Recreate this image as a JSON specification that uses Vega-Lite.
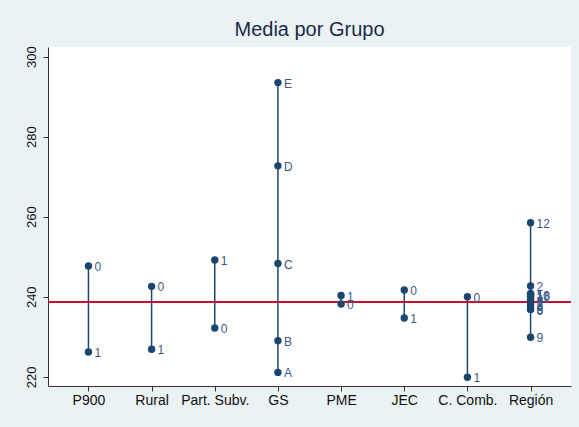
{
  "$schema": "https://vega.github.io/schema/vega-lite/v6.json",
  "width": 523,
  "height": 339,
  "autosize": {"type": "none"},
  "padding": {"left": 48, "top": 47, "right": 8, "bottom": 41},
  "background": "#EAF2F3",
  "config": {
    "view": {"fill": "white", "stroke": null},
    "font": "Liberation Sans",
    "axis": {"grid": false, "domainColor": "#333333", "tickColor": "#333333", "labelColor": "#111111", "labelFont": "Liberation Sans", "title": null}
  },
  "title": {"text": "Media por Grupo", "fontSize": 20, "font": "Liberation Sans", "fontWeight": "normal", "color": "#1c2b4a", "anchor": "middle", "frame": "group", "baseline": "alphabetic", "offset": -10},
  "data": {
    "values": [
      {"grupo": "P900", "cat": "0", "media": 247.7},
      {"grupo": "P900", "cat": "1", "media": 226.2},
      {"grupo": "Rural", "cat": "0", "media": 242.6},
      {"grupo": "Rural", "cat": "1", "media": 226.9},
      {"grupo": "Part. Subv.", "cat": "1", "media": 249.2},
      {"grupo": "Part. Subv.", "cat": "0", "media": 232.2},
      {"grupo": "GS", "cat": "A", "media": 221.1},
      {"grupo": "GS", "cat": "B", "media": 229.0},
      {"grupo": "GS", "cat": "C", "media": 248.3},
      {"grupo": "GS", "cat": "D", "media": 272.7},
      {"grupo": "GS", "cat": "E", "media": 293.5},
      {"grupo": "PME", "cat": "1", "media": 240.3},
      {"grupo": "PME", "cat": "0", "media": 238.2},
      {"grupo": "JEC", "cat": "0", "media": 241.7},
      {"grupo": "JEC", "cat": "1", "media": 234.7},
      {"grupo": "C. Comb.", "cat": "0", "media": 240.0},
      {"grupo": "C. Comb.", "cat": "1", "media": 219.9},
      {"grupo": "Región", "cat": "1", "media": 240.8},
      {"grupo": "Región", "cat": "2", "media": 242.7},
      {"grupo": "Región", "cat": "3", "media": 238.3},
      {"grupo": "Región", "cat": "4", "media": 239.5},
      {"grupo": "Región", "cat": "5", "media": 237.0},
      {"grupo": "Región", "cat": "6", "media": 236.8},
      {"grupo": "Región", "cat": "7", "media": 239.0},
      {"grupo": "Región", "cat": "8", "media": 237.7},
      {"grupo": "Región", "cat": "9", "media": 229.9},
      {"grupo": "Región", "cat": "10", "media": 240.3},
      {"grupo": "Región", "cat": "11", "media": 240.0},
      {"grupo": "Región", "cat": "12", "media": 258.5},
      {"grupo": "Región", "cat": "13", "media": 240.5}
    ]
  },
  "encoding": {
    "x": {
      "field": "grupo", "type": "nominal",
      "scale": {"type": "point", "padding": 0.64, "domain": ["P900", "Rural", "Part. Subv.", "GS", "PME", "JEC", "C. Comb.", "Región"]},
      "axis": {"labelAngle": 0, "labelFontSize": 14, "tickSize": 5, "labelPadding": 2, "domainWidth": 1}
    }
  },
  "layer": [
    {
      "mark": {"type": "rule", "color": "#1a476f", "strokeWidth": 1.5},
      "encoding": {
        "y": {"aggregate": "min", "field": "media", "type": "quantitative",
              "scale": {"domain": [217.7, 302.4], "nice": false, "zero": false},
              "axis": {"values": [220, 240, 260, 280, 300], "labelAngle": -90, "labelAlign": "center", "labelBaseline": "bottom", "labelFontSize": 13, "tickSize": 5, "labelPadding": 5}},
        "y2": {"aggregate": "max", "field": "media"}
      }
    },
    {
      "mark": {"type": "rule", "color": "#c8102e", "strokeWidth": 1},
      "encoding": {"y": {"datum": 238.6, "type": "quantitative"}, "x": null}
    },
    {
      "mark": {"type": "circle", "color": "#1a476f", "opacity": 1, "size": 55},
      "encoding": {"y": {"field": "media", "type": "quantitative"}}
    },
    {
      "mark": {"type": "text", "align": "left", "baseline": "middle", "dx": 6, "dy": 1, "fontSize": 12, "color": "#3a5a85"},
      "encoding": {"y": {"field": "media", "type": "quantitative"}, "text": {"field": "cat"}}
    }
  ]
}
